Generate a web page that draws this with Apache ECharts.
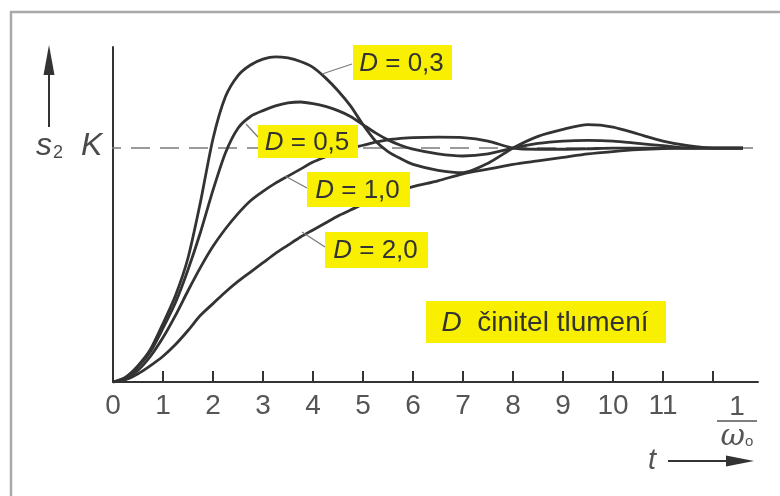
<!DOCTYPE html>
<html>
<head>
<meta charset="utf-8">
<script src="https://cdn.jsdelivr.net/npm/echarts@6/dist/echarts.min.js"></script>
<style>
  html, body { margin: 0; padding: 0; background: #ffffff; }
  #chart { width: 780px; height: 496px; }
</style>
</head>
<body>
<div id="chart"></div>
<script>
// time in units of 1/omega0
const tValues = [0, 0.25, 0.5, 0.75, 1, 1.25, 1.5, 1.75, 2, 2.25, 2.5, 2.75, 3, 3.25, 3.5, 3.75, 4, 4.25, 4.5, 4.75, 5, 5.25, 5.5, 5.75, 6,
                 6.5, 7, 7.5, 8, 8.5, 9, 9.5, 10, 10.5, 11, 11.5, 12, 12.6];
// s2 / K
const d03 = [0, 0.02, 0.07, 0.14, 0.25, 0.37, 0.53, 0.77, 1.04, 1.22, 1.31, 1.355, 1.38, 1.39, 1.385, 1.37, 1.345, 1.30, 1.245, 1.18, 1.10, 1.03, 0.985, 0.955, 0.93,
             0.905, 0.895, 0.935, 1.0, 1.05, 1.08, 1.10, 1.09, 1.06, 1.03, 1.01, 1.0, 1.0];
const d05 = [0, 0.02, 0.065, 0.13, 0.23, 0.34, 0.48, 0.64, 0.82, 0.98, 1.085, 1.135, 1.16, 1.18, 1.193, 1.197, 1.19, 1.178, 1.16, 1.135, 1.10, 1.065, 1.035, 1.012, 0.995,
             0.975, 0.966, 0.975, 1.0, 1.02, 1.03, 1.033, 1.03, 1.02, 1.01, 1.0, 1.0, 1.0];
const d10 = [0, 0.015, 0.05, 0.11, 0.19, 0.285, 0.39, 0.49, 0.58, 0.655, 0.72, 0.775, 0.815, 0.85, 0.88, 0.91, 0.94, 0.963, 0.985, 1.0, 1.012, 1.025, 1.035, 1.041, 1.045,
             1.047, 1.045, 1.03, 1.0, 0.995, 0.995, 0.997, 1.0, 1.0, 1.0, 1.0, 1.0, 1.0];
const d20 = [0, 0.01, 0.035, 0.07, 0.11, 0.16, 0.22, 0.285, 0.335, 0.385, 0.43, 0.47, 0.51, 0.55, 0.585, 0.62, 0.65, 0.68, 0.71, 0.735, 0.76, 0.78, 0.80, 0.818, 0.835,
             0.86, 0.89, 0.91, 0.93, 0.945, 0.96, 0.975, 0.985, 0.993, 0.998, 1.0, 1.0, 1.0];
const kLevel = 1;
const kLineT = [-0.22, 12.8];
const xTicks = [0, 1, 2, 3, 4, 5, 6, 7, 8, 9, 10, 11, 12];
const xTickLabels = ['0', '1', '2', '3', '4', '5', '6', '7', '8', '9', '10', '11'];
const curveLabels = ['0,3', '0,5', '1,0', '2,0'];

const pair = arr => tValues.map((t, i) => [t, arr[i]]);
const INK = '#333333';
const YEL = '#f8f000';
const FONT = 'Liberation Sans, Arial, sans-serif';

function curve(name, arr) {
  return {
    name: name, type: 'line', data: pair(arr), smooth: 0.25, symbol: 'none',
    lineStyle: { color: INK, width: 2.8 }, z: 3, silent: true
  };
}

function labelBox(x, y, w, h, txt) {
  return {
    type: 'group', z: 20,
    children: [
      { type: 'rect', shape: { x: x, y: y, width: w, height: h }, style: { fill: YEL }, z: 20 },
      { type: 'text', x: x + w / 2 - 1, y: y + h / 2 + 1, z: 21,
        style: { text: '{i|D}{n| = ' + txt + '}', align: 'center', verticalAlign: 'middle',
          rich: { i: { fontStyle: 'italic', fontSize: 26, fill: INK, fontFamily: FONT },
                  n: { fontSize: 26, fill: INK, fontFamily: FONT } } } }
    ]
  };
}
function leader(x1, y1, x2, y2) {
  return { type: 'line', z: 19, shape: { x1: x1, y1: y1, x2: x2, y2: y2 }, style: { stroke: '#7a7a7a', lineWidth: 1.3 } };
}

const chart = echarts.init(document.getElementById('chart'), null, { renderer: 'canvas' });
chart.setOption({
  backgroundColor: '#ffffff',
  animation: false,
  grid: { left: 113, right: 22, top: 47, bottom: 114 },
  xAxis: {
    type: 'value', min: 0, max: 12.9, interval: 1,
    axisLine: { show: true, onZero: false, lineStyle: { color: INK, width: 2 } },
    axisTick: { show: true, inside: true, length: 11, customValues: xTicks, lineStyle: { color: INK, width: 2 } },
    axisLabel: { show: true, customValues: xTicks.slice(0, 12), formatter: v => xTickLabels[Math.round(v)] || '',
      fontSize: 28, color: '#555555', margin: 10, fontFamily: FONT },
    splitLine: { show: false }
  },
  yAxis: {
    type: 'value', min: 0, max: 1.432,
    axisLine: { show: true, onZero: false, lineStyle: { color: INK, width: 2 } },
    axisTick: { show: false }, axisLabel: { show: false }, splitLine: { show: false }
  },
  series: [
    { name: 'K', type: 'line', data: kLineT.map(t => [t, kLevel]), symbol: 'none', clip: false, z: 2, silent: true,
      lineStyle: { color: '#7a7a7a', width: 1.5, type: [19, 10] } },
    curve('D=0,3', d03), curve('D=0,5', d05), curve('D=1,0', d10), curve('D=2,0', d20)
  ],
  graphic: [
    { type: 'rect', z: -1, shape: { x: 11, y: 12, width: 800, height: 520 }, style: { fill: '#ffffff', stroke: '#a9a9a9', lineWidth: 2.5 } },
    // s2 arrow
    { type: 'line', z: 5, shape: { x1: 49, y1: 127, x2: 49, y2: 70 }, style: { stroke: INK, lineWidth: 2 } },
    { type: 'polygon', z: 5, shape: { points: [[49, 45], [43.5, 75], [54.5, 75]] }, style: { fill: INK } },
    { type: 'text', z: 5, x: 36, y: 146, style: { text: '{s|s}{b|2}', verticalAlign: 'middle',
      rich: { s: { fontStyle: 'italic', fontSize: 32, fill: '#4a4a4a', fontFamily: FONT },
              b: { fontSize: 18, fill: '#4a4a4a', fontFamily: FONT, padding: [14, 0, 0, 1] } } } },
    { type: 'text', z: 5, x: 81, y: 146, style: { text: 'K', fontStyle: 'italic', fontSize: 32, fill: '#4a4a4a', fontFamily: FONT, verticalAlign: 'middle' } },
    // leaders and labels
    leader(352, 64, 322, 74), leader(258, 137, 246, 124), leader(307, 188, 285, 176), leader(325, 247, 302, 232),
    labelBox(353, 45, 99, 35, curveLabels[0]),
    labelBox(258, 125, 100, 33, curveLabels[1]),
    labelBox(307, 172, 103, 35, curveLabels[2]),
    labelBox(325, 232, 103, 36, curveLabels[3]),
    { type: 'group', z: 20, children: [
      { type: 'rect', shape: { x: 426, y: 301, width: 240, height: 42 }, style: { fill: YEL } },
      { type: 'text', x: 545, y: 323, style: { text: '{i|D}{n|  činitel tlumení}', align: 'center', verticalAlign: 'middle',
        rich: { i: { fontStyle: 'italic', fontSize: 28, fill: INK, fontFamily: FONT }, n: { fontSize: 28, fill: INK, fontFamily: FONT } } } }
    ] },
    // 1/omega0 unit
    { type: 'text', z: 5, x: 737, y: 407, style: { text: '1', align: 'center', verticalAlign: 'middle', fontSize: 28, fill: '#555555', fontFamily: FONT } },
    { type: 'line', z: 5, shape: { x1: 717, y1: 421, x2: 757, y2: 421 }, style: { stroke: '#555555', lineWidth: 1.6 } },
    { type: 'text', z: 5, x: 737, y: 437, style: { text: '{w|ω}{o|o}', align: 'center', verticalAlign: 'middle',
      rich: { w: { fontStyle: 'italic', fontSize: 30, fill: '#555555', fontFamily: 'DejaVu Serif, serif' },
              o: { fontSize: 15, fill: '#555555', fontFamily: FONT, padding: [10, 0, 0, 0] } } } },
    // t arrow
    { type: 'text', z: 5, x: 652, y: 461, style: { text: 't', align: 'center', verticalAlign: 'middle', fontStyle: 'italic', fontSize: 29, fill: '#555555', fontFamily: FONT } },
    { type: 'line', z: 5, shape: { x1: 668, y1: 461, x2: 730, y2: 461 }, style: { stroke: INK, lineWidth: 2 } },
    { type: 'polygon', z: 5, shape: { points: [[754, 461], [726, 455.5], [726, 466.5]] }, style: { fill: INK } }
  ]
});
</script>
</body>
</html>
